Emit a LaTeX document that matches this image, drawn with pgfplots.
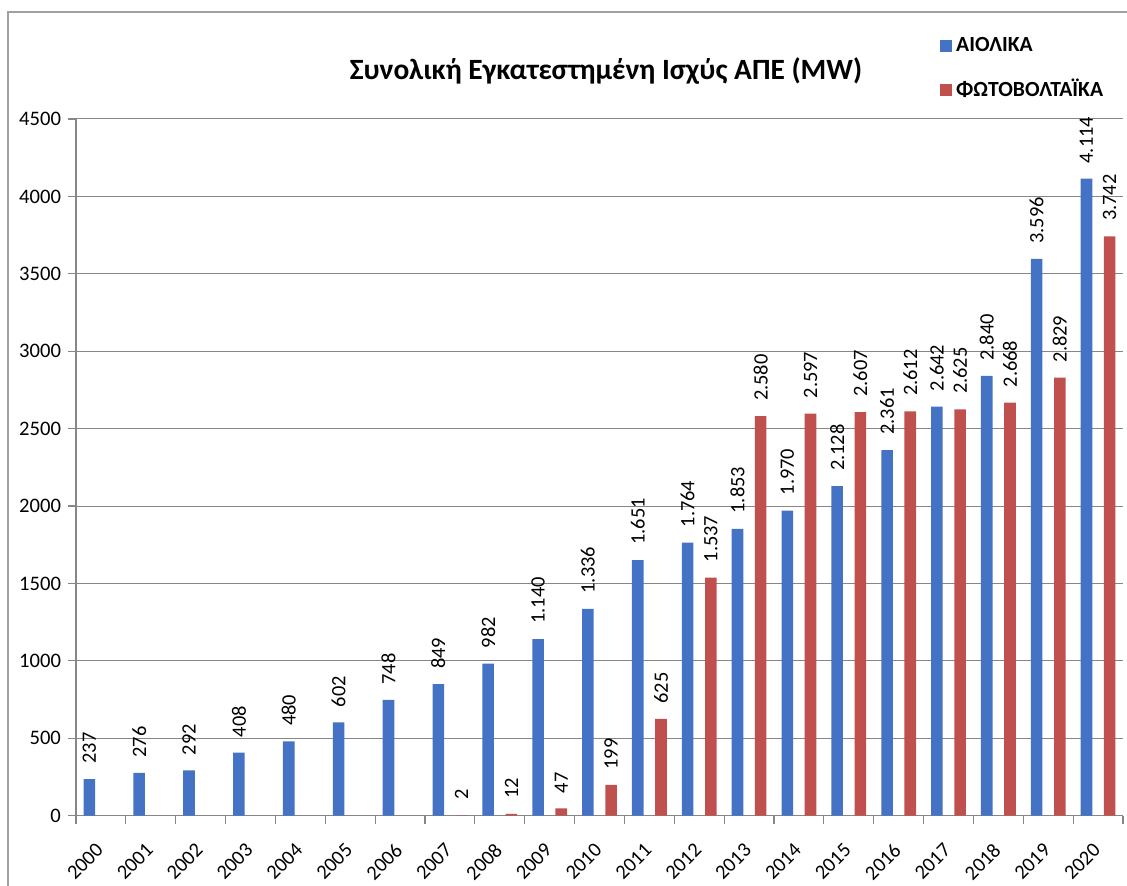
\documentclass[border=0pt]{standalone}
\usepackage{fontspec}
\setmainfont{Carlito}
\usepackage{pgfplots}
\pgfplotsset{compat=1.18}
\definecolor{windblue}{RGB}{68,114,196}
\definecolor{pvred}{RGB}{192,80,77}
\definecolor{gridgray}{RGB}{134,134,134}
\definecolor{framegray}{RGB}{160,160,160}
\begin{document}
\begin{tikzpicture}
\useasboundingbox (0,0) rectangle (563.5pt,443pt);
\draw[framegray, line width=0.6pt] (4pt,0) -- (4pt,437pt) -- (563.5pt,437pt);
\begin{axis}[
  at={(38pt,35.15pt)}, anchor=south west,
  scale only axis, width=523.5pt, height=348.35pt,
  ybar=5.8pt, bar width=5.8pt,
  xmin=-0.5, xmax=20.5, ymin=0, ymax=4500,
  ytick={0,500,...,4500},
  ymajorgrids, grid style={gridgray, line width=0.5pt},
  axis x line*=bottom, axis y line*=left,
  axis line style={gridgray, line width=0.6pt, -},
  tick align=outside, major tick length=4pt,
  tick style={gridgray, line width=0.6pt},
  xtick={-0.5,0.5,...,20.5}, xticklabels={},
  extra x ticks={0,1,...,20},
  extra x tick labels={2000,2001,2002,2003,2004,2005,2006,2007,2008,2009,2010,2011,2012,2013,2014,2015,2016,2017,2018,2019,2020},
  extra x tick style={major tick length=0pt, grid=none,
    xticklabel style={font=\fontsize{10.2}{12}\selectfont, xshift=-0.5pt, yshift=-15.5pt, rotate=45, anchor=east, inner sep=0pt}},
  yticklabel style={font=\fontsize{10.3}{12}\selectfont},
  /pgf/number format/assume math mode=true,
  /pgf/number format/1000 sep={},
  nodes near coords={\pgfmathprintnumber[assume math mode=true,1000 sep={.}]{\pgfplotspointmeta}},
  every node near coord/.append style={rotate=90, anchor=west, inner xsep=7.5pt, inner ysep=0pt, text=black, font=\fontsize{10.2}{12}\selectfont},
  legend image code/.code={\fill[#1] (0pt,-3pt) rectangle (6pt,3pt);},
  legend style={at={(0.825,1.0724)}, anchor=west, draw=none, fill=none, inner sep=0pt,
    row sep=8.5pt, font=\bfseries\fontsize{10.8}{12}\selectfont},
  legend cell align=left,
  clip=false,
]
\addplot[fill=windblue, draw=none]
  coordinates {(0,237)(1,276)(2,292)(3,408)(4,480)(5,602)(6,748)(7,849)(8,982)(9,1140)(10,1336)(11,1651)(12,1764)(13,1853)(14,1970)(15,2128)(16,2361)(17,2642)(18,2840)(19,3596)(20,4114)};
\addlegendentry{ΑΙΟΛΙΚΑ}
\addplot[fill=pvred, draw=none]
  coordinates {(7,2)(8,12)(9,47)(10,199)(11,625)(12,1537)(13,2580)(14,2597)(15,2607)(16,2612)(17,2625)(18,2668)(19,2829)(20,3742)};
\addlegendentry{ΦΩΤΟΒΟΛΤΑΪΚΑ}
\end{axis}
\node[font=\bfseries\fontsize{14.7}{17}\selectfont] at (303pt,407.5pt) {Συνολική Εγκατεστημένη Ισχύς ΑΠΕ (MW)};
\end{tikzpicture}
\end{document}
